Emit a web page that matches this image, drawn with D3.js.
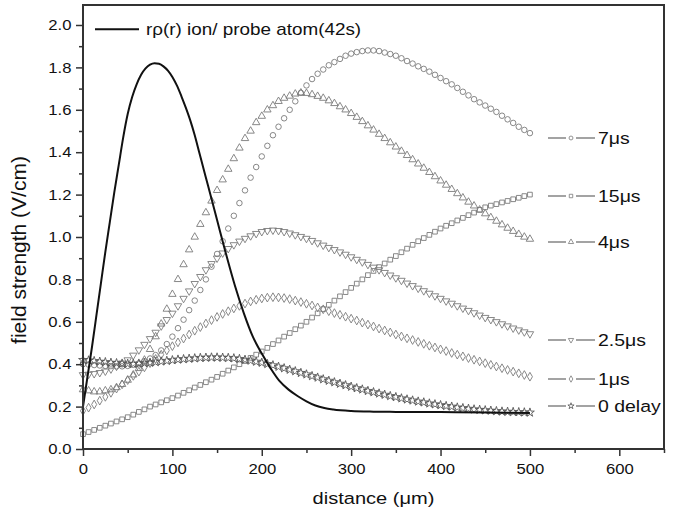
<!DOCTYPE html>
<html><head><meta charset="utf-8">
<script src="https://cdn.jsdelivr.net/npm/d3@7"></script>
<style>
body{margin:0;background:#fff}
svg{display:block}
text{font-family:"Liberation Sans",Arial,Helvetica,sans-serif;fill:#111}
</style></head>
<body><svg id="chart" width="674" height="515"></svg>
<script>
// ---------- DATA ----------
const distance = [0,6.25,12.5,18.75,25,31.25,37.5,43.75,50,56.25,62.5,68.75,75,81.25,87.5,93.75,100,106.25,112.5,118.75,125,131.25,137.5,143.75,150,156.25,162.5,168.75,175,181.25,187.5,193.75,200,206.25,212.5,218.75,225,231.25,237.5,243.75,250,256.25,262.5,268.75,275,281.25,287.5,293.75,300,306.25,312.5,318.75,325,331.25,337.5,343.75,350,356.25,362.5,368.75,375,381.25,387.5,393.75,400,406.25,412.5,418.75,425,431.25,437.5,443.75,450,456.25,462.5,468.75,475,481.25,487.5,493.75,500];

const us7 = [.40,.398,.396,.394,.392,.391,.39,.39,.392,.397,.404,.414,.427,.443,.465,.495,.53,.57,.61,.655,.70,.75,.80,.86,.92,.98,1.04,1.10,1.16,1.22,1.28,1.33,1.38,1.43,1.48,1.52,1.56,1.60,1.64,1.68,1.715,1.745,1.77,1.79,1.81,1.825,1.84,1.855,1.865,1.872,1.877,1.88,1.88,1.877,1.87,1.863,1.855,1.843,1.83,1.818,1.805,1.793,1.78,1.765,1.75,1.735,1.72,1.703,1.685,1.668,1.65,1.635,1.62,1.605,1.59,1.572,1.555,1.538,1.52,1.505,1.49];

const us15 = [.070,.080,.090,.100,.110,.120,.130,.140,.150,.162,.175,.187,.200,.210,.220,.230,.240,.252,.265,.277,.290,.302,.315,.327,.340,.355,.370,.385,.400,.415,.430,.445,.460,.477,.495,.512,.530,.547,.565,.582,.600,.620,.640,.660,.680,.700,.720,.740,.760,.780,.800,.820,.840,.858,.875,.893,.910,.928,.945,.963,.980,.995,1.010,1.025,1.040,1.053,1.065,1.078,1.090,1.103,1.115,1.128,1.140,1.148,1.155,1.163,1.170,1.178,1.185,1.193,1.200];

const us4 = [.28,.275,.27,.27,.275,.28,.29,.305,.325,.35,.38,.42,.47,.53,.59,.66,.73,.80,.87,.94,1.0,1.06,1.115,1.17,1.22,1.27,1.32,1.37,1.42,1.465,1.50,1.54,1.57,1.60,1.62,1.64,1.655,1.665,1.675,1.68,1.678,1.672,1.664,1.655,1.643,1.63,1.615,1.60,1.583,1.565,1.545,1.525,1.505,1.485,1.465,1.445,1.425,1.405,1.385,1.365,1.345,1.325,1.305,1.285,1.265,1.245,1.225,1.205,1.185,1.165,1.147,1.128,1.11,1.092,1.075,1.058,1.042,1.027,1.013,1.0,.99];

const us2_5 = [.35,.352,.355,.36,.367,.377,.39,.405,.42,.442,.467,.493,.52,.55,.58,.61,.64,.675,.71,.745,.78,.813,.845,.874,.90,.924,.945,.963,.98,.993,1.005,1.016,1.025,1.03,1.032,1.03,1.025,1.018,1.01,1.002,.993,.983,.972,.961,.95,.94,.929,.918,.906,.894,.882,.87,.857,.845,.832,.82,.807,.795,.782,.77,.758,.746,.734,.722,.71,.698,.687,.675,.664,.653,.642,.631,.62,.61,.60,.59,.58,.57,.561,.552,.543];

const us1 = [.18,.195,.21,.228,.246,.265,.285,.305,.325,.345,.365,.385,.405,.425,.445,.465,.485,.503,.521,.54,.558,.575,.592,.608,.623,.637,.65,.663,.675,.686,.696,.704,.71,.714,.716,.715,.712,.707,.70,.693,.685,.677,.668,.659,.65,.641,.633,.624,.615,.606,.596,.587,.578,.568,.559,.55,.54,.531,.522,.514,.505,.496,.487,.479,.47,.462,.453,.445,.437,.429,.421,.413,.405,.397,.389,.381,.373,.365,.357,.349,.341];

const delay0 = [.42,.418,.415,.412,.41,.407,.405,.403,.402,.402,.403,.405,.407,.41,.413,.416,.419,.422,.424,.426,.428,.43,.431,.432,.432,.431,.43,.428,.425,.421,.417,.412,.407,.401,.395,.388,.381,.374,.367,.359,.352,.344,.337,.329,.322,.315,.308,.301,.294,.287,.281,.274,.268,.262,.256,.25,.245,.239,.234,.229,.224,.22,.215,.211,.207,.203,.2,.196,.193,.19,.187,.185,.183,.181,.179,.177,.176,.175,.174,.173,.172];

const rhoDistance = [0,5,10,15,20,25,30,35,40,45,50,55,60,65,70,75,80,85,90,95,100,105,110,115,120,125,130,135,140,145,150,160,170,180,190,200,210,220,230,240,250,260,270,280,300,325,350,400,450,500];
const rhoValue = [.20,.34,.48,.63,.78,.93,1.07,1.21,1.34,1.47,1.58,1.66,1.72,1.765,1.795,1.813,1.82,1.817,1.805,1.785,1.755,1.715,1.665,1.61,1.55,1.48,1.40,1.32,1.24,1.16,1.08,.92,.77,.64,.53,.45,.38,.32,.28,.25,.225,.205,.193,.186,.179,.176,.175,.174,.172,.17];

const seriesNames = ["7\u03bcs","15\u03bcs","4\u03bcs","2.5\u03bcs","1\u03bcs","0 delay"];
const seriesValues = [us7, us15, us4, us2_5, us1, delay0];
const seriesSymbols = ["circle","square","triangle","triangleDown","diamond","star"];
const lineLabel = "r\u03c1(r) ion/ probe atom(42s)";

const xMajor = [0,100,200,300,400,500,600];
const xMinor = [50,150,250,350,450,550,650];
const yMajor = [0,0.2,0.4,0.6,0.8,1.0,1.2,1.4,1.6,1.8,2.0];
const yMinor = [0.1,0.3,0.5,0.7,0.9,1.1,1.3,1.5,1.7,1.9];
const xTitle = "distance (\u03bcm)";
const yTitle = "field strength (V/cm)";

// ---------- LAYOUT ----------
const L = 83, R = 664, T = 5, B = 449;
const SX = 1.18; // horizontal stretch of the lettering in the original figure
const svg = d3.select("#chart");
const x = d3.scaleLinear().domain([0,650]).range([L,R]);
const y = d3.scaleLinear().domain([0,2.0943]).range([B,T]);
const markColor = "#7a7a7a";

function symPath(kind, size){
  const map = {circle:d3.symbolCircle, square:d3.symbolSquare, triangle:d3.symbolTriangle,
               triangleDown:d3.symbolTriangle, diamond:d3.symbolDiamond, star:d3.symbolStar};
  return d3.symbol().type(map[kind]).size(size)();
}
const symSize = {circle:24, square:22, triangle:24, triangleDown:24, diamond:22, star:24};
const symColor = {circle:markColor, square:markColor, triangle:markColor, triangleDown:markColor, diamond:markColor, star:"#555"};
const symRot = k => k==="triangleDown" ? 180 : 0;

function stretchedText(px, py, str, size, anchor){
  const g = svg.append("g").attr("transform",`translate(${px},${py}) scale(${SX},1)`);
  return g.append("text").attr("text-anchor",anchor||"start").attr("font-size",size).text(str);
}

// series markers
seriesValues.forEach((vals,i)=>{
  const kind = seriesSymbols[i];
  const p = symPath(kind, symSize[kind]);
  svg.append("g").selectAll("path").data(vals).join("path")
    .attr("d", p)
    .attr("transform", (d,j)=>`translate(${x(distance[j])},${y(d)}) rotate(${symRot(kind)})`)
    .attr("fill","none").attr("stroke",symColor[kind]).attr("stroke-width",0.9);
});

// black line
const rho = rhoDistance.map((d,i)=>[d,rhoValue[i]]);
svg.append("path").datum(rho)
  .attr("d", d3.line().x(d=>x(d[0])).y(d=>y(d[1])).curve(d3.curveMonotoneX))
  .attr("fill","none").attr("stroke","#111").attr("stroke-width",2);

// axes
const axColor = "#333";
const gx = svg.append("g").attr("transform",`translate(0,${B})`)
  .call(d3.axisBottom(x).tickValues(xMajor).tickSize(7).tickPadding(8).tickFormat(d3.format("d")));
const gxm = svg.append("g").attr("transform",`translate(0,${B})`)
  .call(d3.axisBottom(x).tickValues(xMinor).tickSize(4).tickFormat(""));
const gy = svg.append("g").attr("transform",`translate(${L},0)`)
  .call(d3.axisLeft(y).tickValues(yMajor).tickSize(7).tickPadding(3).tickFormat(d3.format(".1f")));
const gym = svg.append("g").attr("transform",`translate(${L},0)`)
  .call(d3.axisLeft(y).tickValues(yMinor).tickSize(4).tickFormat(""));
[gx,gxm,gy,gym].forEach(g=>{
  g.select(".domain").remove();
  g.selectAll("line").attr("stroke",axColor).attr("stroke-width",1.5);
  g.selectAll("text").attr("font-size",14.5).attr("fill","#111")
    .attr("transform",`scale(1.15,1)`)
    .style("font-family",'"Liberation Sans",Arial,sans-serif');
});
svg.append("rect").attr("x",L).attr("y",T).attr("width",R-L).attr("height",B-T)
  .attr("fill","none").attr("stroke",axColor).attr("stroke-width",2);

// axis titles
stretchedText((L+R)/2, 504, xTitle, 17, "middle");
svg.append("text").attr("transform",`translate(26,250) rotate(-90)`)
  .attr("text-anchor","middle").attr("font-size",21).text(yTitle);

// top legend
svg.append("line").attr("x1",95).attr("x2",139).attr("y1",y(1.98)).attr("y2",y(1.98))
  .attr("stroke","#111").attr("stroke-width",2);
stretchedText(146, y(1.98)+6, lineLabel, 16, "start");

// right legend
const legendY = [138,196,242,340,379,406];
seriesNames.forEach((name,i)=>{
  const ly = legendY[i];
  const g = svg.append("g");
  g.append("line").attr("x1",548).attr("x2",566).attr("y1",ly).attr("y2",ly).attr("stroke","#666").attr("stroke-width",1.2);
  g.append("line").attr("x1",576).attr("x2",595).attr("y1",ly).attr("y2",ly).attr("stroke","#666").attr("stroke-width",1.2);
  const kind = seriesSymbols[i];
  g.append("path").attr("d",symPath(kind,12)).attr("transform",`translate(571,${ly}) rotate(${symRot(kind)})`)
    .attr("fill","none").attr("stroke",symColor[kind]).attr("stroke-width",0.8);
  stretchedText(598, ly+6, name, 16.5, "start");
});
</script></body></html>
